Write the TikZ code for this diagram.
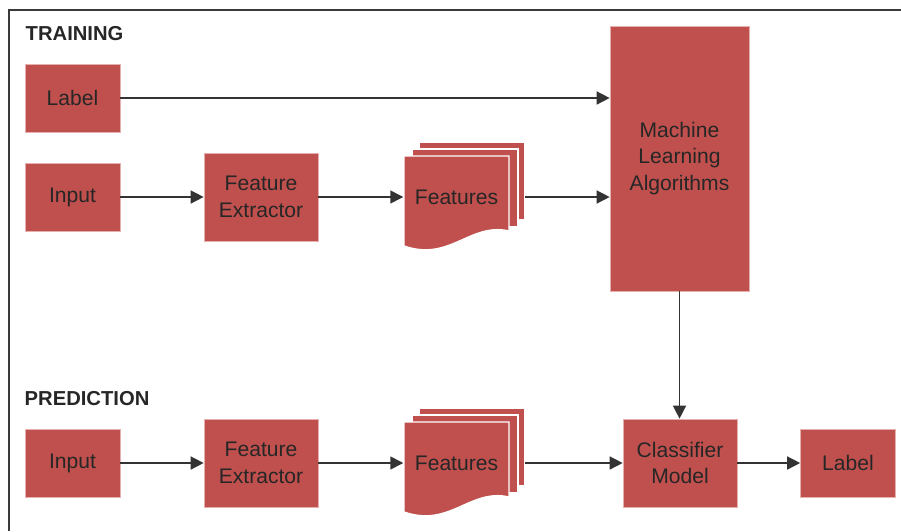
\documentclass[tikz,border=0pt]{standalone}
\usepackage{fontspec}
\setmainfont{Liberation Sans}
\usetikzlibrary{arrows.meta}
\definecolor{boxred}{HTML}{C0504D}
\definecolor{boxedge}{HTML}{E6B0AE}
\definecolor{ink}{HTML}{262626}
\definecolor{arrowgray}{HTML}{333333}
\definecolor{framegray}{HTML}{3A3A3A}

\begin{document}
\begin{tikzpicture}[x=0.02cm, y=-0.02cm, font=\fontsize{12}{15.3}\selectfont, line width=0.85pt,
    box/.style={fill=boxred, draw=boxedge, line width=0.4pt, text=ink, align=center, inner sep=0pt},
    small/.style={box, minimum width=1.9cm, minimum height=1.36cm},
    big/.style={box, minimum width=2.28cm, minimum height=1.76cm},
    sheet/.style={fill=boxred, draw=white, line width=0.8pt},
    arr/.style={draw=arrowgray, -{Triangle[length=7.4pt, width=7.4pt]}},
    head/.style={font=\fontsize{11.5}{14}\selectfont\bfseries, text=ink, anchor=west, inner sep=0pt}]
        \useasboundingbox (0,0) rectangle (901,531);
        \draw[framegray, line width=1.1pt] (9,531) -- (9,10) -- (901,10);

        % training
        \node[head](train) at (25,34) {TRAINING};
        \node[small](lblT) at (72.5,98) {Label};
        \node[small](inT) at (72.5,197) {Input};
        \node[big](fexT) at (261,197) {Feature\\Extractor};
        \node[box, minimum width=2.78cm, minimum height=5.3cm](mla) at (679.5,158.5) {Machine\\Learning\\Algorithms};

        % prediction
        \node[head](pred) at (24,399) {PREDICTION};
        \node[small](inP) at (72.5,463) {Input};
        \node[big](fexP) at (261,463) {Feature\\Extractor};
        \node[big](clsP) at (680,463) {Classifier\\Model};
        \node[small](lblP) at (848,463) {Label};

        % stacked feature sheets
        \foreach \y/\n in {0/T, 266/P} {
            \filldraw[sheet] (419,142+\y) rectangle (525,220+\y);
            \filldraw[sheet] (412,149+\y) rectangle (518,227+\y);
            \filldraw[sheet] (404,156+\y) -- (509,156+\y) -- (509,231+\y)
                .. controls (470,222+\y) and (450,262+\y) .. (404,246+\y) -- cycle;
            \node[text=ink, minimum width=2.1cm, inner sep=0pt](feat\n) at (456.5,197+\y) {Features};
            \coordinate(out\n) at (525,197+\y);
        }

        \draw[arr] (lblT) -- (lblT -| mla.west);
        \draw[arr] (inT) -- (fexT);
        \draw[arr] (fexT) -- (featT);
        \draw[arr] (outT) -- (outT -| mla.west);
        \draw[arr] (mla.south) -- (mla.south |- clsP.north);

        \draw[arr] (inP) -- (fexP);
        \draw[arr] (fexP) -- (featP);
        \draw[arr] (outP) -- (clsP);
        \draw[arr] (clsP) -- (lblP);
\end{tikzpicture}
\end{document}
